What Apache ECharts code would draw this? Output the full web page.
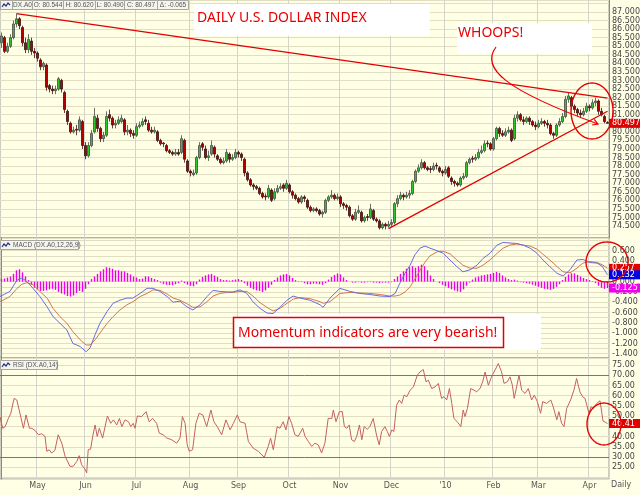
<!DOCTYPE html>
<html><head><meta charset="utf-8">
<script src="https://cdn.jsdelivr.net/npm/echarts/dist/echarts.min.js"></script>
<style>html,body{margin:0;padding:0;background:#FFFFE6;}#c{width:640px;height:495px;}</style>
</head><body><div id="c"></div>
<script>
// ---- daily candles (DX.A0) ----
const opens = [
85.2,85.5,84.7,85.0,85.5,86.3,86.6,86.1,85.2,84.8,
85.3,84.7,84.6,84.2,83.8,83.9,82.7,82.5,82.4,82.5,
83.0,82.3,81.2,80.5,80.0,80.15,80.1,80.6,79.2,78.6,
79.2,80.0,80.8,80.2,79.6,79.8,81.0,80.8,80.4,80.5,
80.6,80.7,80.0,80.1,79.9,79.8,80.3,80.4,80.7,80.5,
80.1,80.0,80.0,79.5,79.35,79.2,78.9,78.8,78.7,78.8,
78.8,79.5,78.3,77.7,77.5,77.6,78.5,79.3,79.0,78.5,
78.7,79.1,78.6,78.4,78.2,78.3,78.7,78.4,78.5,78.8,
78.7,78.4,77.6,77.2,76.9,76.8,76.7,76.4,76.25,76.2,
76.6,76.1,76.5,76.7,76.9,76.7,76.9,76.5,76.3,76.1,
75.9,76.2,76.0,75.6,75.4,75.5,75.4,75.2,75.3,76.0,
76.2,76.3,76.1,76.2,75.8,75.7,75.6,75.1,74.9,75.3,
75.3,74.8,75.05,75.0,75.4,74.9,74.8,74.4,74.6,74.5,
74.6,74.7,75.8,76.1,76.3,76.2,76.3,76.4,77.1,77.7,
77.9,78.2,77.9,77.85,77.8,78.05,77.9,77.7,77.6,77.9,
77.3,77.1,77.0,76.9,77.3,77.4,78.2,78.45,78.4,78.5,
78.8,78.9,79.35,79.3,79.0,79.6,80.2,79.9,79.8,80.0,
80.1,79.6,80.8,81.0,80.7,80.6,80.8,80.6,80.4,80.3,
80.5,80.6,80.5,80.4,79.9,79.8,80.4,80.6,80.9,81.9,
82.0,81.5,81.3,81.1,81.0,81.2,81.5,81.4,81.7,81.8,
81.2,80.9,80.544];
const closes = [
85.6,84.7,85.0,85.5,86.3,86.6,86.2,85.2,84.8,85.4,
84.7,84.6,84.3,83.8,84.0,82.6,82.5,82.4,82.5,83.1,
82.5,81.3,80.6,80.0,80.1,80.1,80.7,79.2,78.6,79.2,
79.9,80.9,80.2,79.6,79.8,80.9,80.8,80.4,80.5,80.7,
80.8,80.0,80.1,79.9,79.8,80.3,80.4,80.6,80.6,80.1,
80.0,80.1,79.5,79.3,79.3,78.9,78.8,78.7,78.8,78.7,
79.6,78.4,77.7,77.6,77.6,78.5,79.2,79.1,78.5,78.6,
79.2,78.7,78.4,78.2,78.3,78.8,78.4,78.5,78.8,78.7,
78.5,77.6,77.2,76.9,76.8,76.7,76.4,76.2,76.2,76.7,
76.0,76.5,76.7,76.8,76.7,77.0,76.5,76.3,76.1,75.9,
76.2,76.1,75.6,75.4,75.5,75.4,75.2,75.3,76.0,76.2,
76.3,76.1,76.2,75.8,75.7,75.6,75.1,74.9,75.3,75.4,
74.8,75.0,75.0,75.5,74.9,74.8,74.4,74.6,74.5,74.6,
74.7,75.8,76.1,76.3,76.2,76.3,76.4,77.1,77.7,77.9,
78.2,77.9,77.8,77.8,78.0,78.0,77.7,77.6,77.8,77.4,
77.1,77.0,76.9,77.3,77.4,78.2,78.4,78.4,78.5,78.8,
78.9,79.3,79.3,79.0,79.6,80.2,79.9,79.8,80.0,80.1,
79.5,80.8,81.0,80.7,80.6,80.8,80.6,80.4,80.3,80.5,
80.6,80.5,80.4,79.9,79.8,80.4,80.6,80.9,81.9,82.1,
81.5,81.3,81.1,81.0,81.2,81.5,81.4,81.7,81.8,81.2,
81.0,80.6,80.497];
const lows = [
84.9,84.6,84.6,84.9,85.4,86.1,86.0,85.0,84.6,84.6,
84.5,84.3,84.1,83.6,83.6,82.4,82.3,82.2,82.2,82.4,
82.3,81.1,80.4,79.9,79.9,79.8,80.0,79.0,78.4,78.5,
79.1,79.9,80.0,79.4,79.4,79.7,80.6,80.2,80.2,80.4,
80.5,79.8,79.8,79.7,79.6,79.7,80.2,80.3,80.4,80.0,
79.9,79.9,79.4,79.2,79.1,78.8,78.7,78.6,78.6,78.6,
78.7,78.2,77.6,77.4,77.4,77.5,78.4,78.9,78.4,78.3,
78.6,78.5,78.3,78.1,78.1,78.2,78.2,78.3,78.4,78.5,
78.3,77.4,77.1,76.8,76.6,76.6,76.3,76.1,76.0,76.1,
75.9,76.0,76.4,76.6,76.5,76.6,76.4,76.1,76.0,75.8,
75.8,75.9,75.5,75.3,75.3,75.3,75.1,75.0,75.2,75.9,
76.1,76.0,76.0,75.6,75.5,75.4,75.0,74.8,74.8,75.2,
74.7,74.7,74.8,74.9,74.8,74.7,74.3,74.3,74.3,74.4,
74.5,74.6,75.6,76.0,76.0,76.1,76.1,76.3,77.0,77.6,
77.8,77.8,77.7,77.6,77.7,77.8,77.6,77.4,77.5,77.3,
76.9,76.8,76.8,76.8,77.2,77.3,78.1,78.2,78.3,78.4,
78.7,78.8,79.1,78.9,78.9,79.5,79.7,79.7,79.7,79.9,
79.4,79.5,80.6,80.6,80.4,80.5,80.4,80.3,80.1,80.2,
80.4,80.3,80.2,79.8,79.6,79.7,80.3,80.5,80.8,81.7,
81.3,81.1,80.9,80.8,80.9,81.1,81.2,81.3,81.5,81.0,
80.9,80.5,80.49];
const highs = [
85.8,85.6,85.2,85.7,86.5,86.9,86.7,86.2,85.5,85.7,
85.5,84.9,84.7,84.3,84.1,84.0,82.8,82.7,82.7,83.2,
83.1,82.4,81.3,80.6,80.3,80.4,80.9,80.7,79.4,79.4,
80.1,81.4,81.0,80.3,80.0,81.2,81.3,80.9,80.7,80.9,
81.0,80.8,80.4,80.2,80.1,80.5,80.6,80.8,80.9,80.7,
80.3,80.3,80.1,79.6,79.4,79.3,79.0,78.9,79.0,79.0,
79.8,79.6,78.4,77.8,77.8,78.6,79.4,79.4,79.2,78.9,
79.5,79.2,78.7,78.5,78.5,79.0,78.8,78.7,79.0,78.9,
78.8,78.5,77.7,77.3,77.0,76.9,76.8,76.5,76.4,76.9,
76.7,76.7,76.9,77.0,77.0,77.2,77.0,76.6,76.4,76.2,
76.3,76.3,76.1,75.7,75.6,75.6,75.5,75.4,76.1,76.3,
76.6,76.4,76.4,76.3,75.9,75.8,75.7,75.2,75.5,75.7,
75.4,75.1,75.2,75.8,75.5,75.0,74.9,74.7,74.7,74.8,
74.9,75.9,76.3,76.5,76.4,76.5,76.6,77.2,77.8,78.1,
78.4,78.3,78.0,78.0,78.2,78.2,78.0,77.8,78.0,78.0,
77.4,77.2,77.1,77.4,77.6,78.3,78.5,78.6,78.7,79.0,
79.2,79.5,79.5,79.4,79.7,80.3,80.3,80.1,80.2,80.3,
80.2,81.0,81.2,81.1,80.9,80.9,80.9,80.7,80.6,80.7,
80.8,80.7,80.7,80.5,80.0,80.5,80.8,81.1,82.1,82.3,
82.1,81.6,81.4,81.3,81.4,81.7,81.6,81.9,82.0,81.9,
81.4,81.0,80.62];

// ---- MACD(12,26,9): [bar position, value] ----
const macdLine = [[-0.5,-0.29],[2.8,-0.19],[5.2,0.03],[6.8,0.07],[8.5,0.0],[10.5,-0.13],[12.8,-0.29],[15.2,-0.49],[17.2,-0.68],[19.5,-0.81],[21.8,-0.94],[23.8,-1.20],[26.2,-1.26],[28.2,-1.36],[29.5,-1.29],[31.2,-1.03],[32.8,-0.81],[35.2,-0.58],[37.2,-0.42],[39.5,-0.36],[41.8,-0.32],[43.8,-0.32],[46.2,-0.23],[48.5,-0.13],[50.5,-0.13],[52.8,-0.19],[55.2,-0.29],[57.2,-0.40],[59.5,-0.38],[61.8,-0.49],[63.8,-0.55],[66.2,-0.45],[68.5,-0.29],[70.5,-0.17],[72.8,-0.19],[75.2,-0.20],[77.2,-0.20],[79.5,-0.16],[81.8,-0.23],[83.8,-0.39],[86.2,-0.52],[88.5,-0.61],[90.5,-0.62],[92.8,-0.50],[95.2,-0.36],[97.2,-0.28],[99.5,-0.32],[102.8,-0.36],[106.2,-0.45],[107.2,-0.50],[109.5,-0.32],[112.8,-0.13],[116.2,-0.19],[119.5,-0.23],[122.8,-0.25],[126.2,-0.28],[129.5,-0.29],[131.2,-0.23],[132.8,-0.03],[134.5,0.16],[136.2,0.32],[137.8,0.52],[139.5,0.65],[141.2,0.69],[142.8,0.65],[145.2,0.60],[147.2,0.55],[149.5,0.42],[151.8,0.29],[153.8,0.19],[156.2,0.23],[158.5,0.32],[160.5,0.45],[162.8,0.55],[165.2,0.71],[167.2,0.76],[169.5,0.75],[171.8,0.74],[173.8,0.71],[176.2,0.65],[178.5,0.55],[180.5,0.42],[182.8,0.29],[185.2,0.16],[187.2,0.11],[189.5,0.23],[191.8,0.42],[193.8,0.43],[196.2,0.37],[198.5,0.36],[200.2,0.30],[202,0.132]];
const signalLine = [[-0.5,-0.39],[2.8,-0.29],[5.2,-0.13],[6.8,-0.05],[8.5,-0.02],[10.5,-0.06],[12.8,-0.19],[15.2,-0.32],[17.2,-0.52],[19.5,-0.68],[21.8,-0.81],[23.8,-0.97],[26.2,-1.13],[28.2,-1.23],[29.5,-1.23],[31.2,-1.13],[32.8,-1.00],[35.2,-0.81],[37.2,-0.68],[39.5,-0.55],[41.8,-0.45],[43.8,-0.39],[46.2,-0.29],[48.5,-0.23],[50.5,-0.16],[52.8,-0.17],[55.2,-0.24],[57.2,-0.32],[59.5,-0.36],[61.8,-0.43],[63.8,-0.50],[66.2,-0.49],[68.5,-0.39],[70.5,-0.28],[72.8,-0.23],[75.2,-0.21],[77.2,-0.21],[79.5,-0.19],[81.8,-0.19],[83.8,-0.28],[86.2,-0.41],[88.5,-0.50],[90.5,-0.57],[92.8,-0.52],[95.2,-0.42],[97.2,-0.34],[99.5,-0.31],[102.8,-0.33],[106.2,-0.39],[107.2,-0.42],[109.5,-0.39],[112.8,-0.23],[116.2,-0.21],[119.5,-0.22],[122.8,-0.23],[126.2,-0.25],[129.5,-0.28],[131.2,-0.28],[132.8,-0.26],[134.5,-0.20],[136.2,-0.10],[137.8,0.05],[139.5,0.22],[141.2,0.38],[142.8,0.50],[145.2,0.58],[147.2,0.59],[149.5,0.54],[151.8,0.42],[153.8,0.32],[156.2,0.26],[158.5,0.26],[160.5,0.32],[162.8,0.42],[165.2,0.55],[167.2,0.65],[169.5,0.71],[171.8,0.73],[173.8,0.71],[176.2,0.69],[178.5,0.63],[180.5,0.53],[182.8,0.42],[185.2,0.29],[187.2,0.19],[189.5,0.17],[191.8,0.26],[193.8,0.36],[196.2,0.39],[198.5,0.37],[200.2,0.33],[202,0.257]];
const macdHist = [
0.05,0.06,0.08,0.10,0.15,0.22,0.24,0.18,0.10,0.03,
-0.06,-0.12,-0.15,-0.18,-0.18,-0.17,-0.15,-0.14,-0.16,-0.20,-0.23,-0.25,-0.28,-0.29,-0.27,-0.22,-0.18,-0.20,-0.14,-0.05,
0.05,0.10,0.15,0.20,0.24,0.28,0.27,0.25,0.22,0.22,0.20,0.20,0.17,0.14,0.10,0.08,0.05,0.06,0.10,0.10,0.07,0.05,0.03,
-0.02,-0.05,-0.06,-0.07,-0.07,-0.05,-0.03,
0.02,-0.03,-0.06,-0.08,-0.09,-0.05,
0.04,0.09,0.12,0.14,0.15,0.12,0.09,0.05,0.03,0.03,0.02,0.03,0.04,0.05,0.03,
-0.03,-0.08,-0.12,-0.15,-0.17,-0.18,-0.20,-0.17,-0.12,-0.06,
0.03,0.08,0.12,0.14,0.15,0.12,0.07,0.03,0.01,
-0.01,-0.03,-0.05,-0.05,-0.04,-0.04,-0.05,-0.06,-0.03,
0.04,0.09,0.13,0.16,0.14,0.08,0.03,0.00,
-0.02,-0.02,-0.01,-0.02,-0.02,-0.01,-0.01,-0.02,-0.02,-0.03,-0.02,-0.02,-0.02,-0.01,
0.05,0.10,0.15,0.20,0.25,0.28,0.30,0.27,0.30,0.33,0.30,0.22,0.12,0.05,0.00,
-0.03,-0.06,-0.09,-0.12,-0.15,-0.17,-0.19,-0.20,-0.15,-0.08,-0.02,
0.04,0.08,0.10,0.12,0.13,0.14,0.15,0.17,0.19,0.17,0.12,0.08,0.05,0.03,0.04,0.02,
-0.01,-0.02,-0.03,-0.04,-0.06,-0.08,-0.10,-0.12,-0.14,-0.15,-0.16,-0.14,-0.10,-0.05,
0.03,0.09,0.14,0.16,0.16,0.13,0.10,0.07,0.05,0.03,0.01,
-0.03,-0.08,-0.12,-0.14,-0.125];

// ---- RSI(14): [bar position, value] ----
const rsiLine = [[-0.5,49.8],[0.4,44.1],[1.2,44.9],[2.3,48.9],[3.1,51.4],[4.2,58.7],[5.1,57.9],[5.9,53.0],[7.3,44.1],[8.2,50.6],[9.3,44.1],[10.1,44.1],[11.2,43.0],[12.3,40.9],[13.4,41.4],[14.5,40.1],[15.1,32.8],[15.9,33.6],[16.7,32.0],[17.8,33.3],[18.9,40.9],[20.1,36.8],[21.2,30.4],[22.8,25.5],[23.9,25.5],[25.1,27.9],[25.9,30.7],[26.7,26.3],[27.8,24.2],[28.4,22.3],[28.9,33.6],[29.7,33.9],[30.4,40.1],[31.2,45.7],[31.9,40.1],[32.6,44.1],[33.7,39.3],[35.3,50.1],[36.4,46.5],[37.3,48.2],[38.4,45.7],[39.3,48.9],[40.1,44.9],[41.2,48.2],[42.3,47.3],[43.1,44.9],[43.9,46.5],[44.5,44.1],[45.3,50.1],[46.7,49.8],[48.2,52.2],[49.2,47.3],[50.4,48.9],[51.7,46.5],[52.6,41.7],[53.9,40.9],[55.1,39.3],[56.7,38.5],[58.4,36.8],[59.5,39.3],[60.3,49.8],[61.2,46.5],[61.9,36.0],[62.6,32.8],[63.7,33.6],[64.8,46.5],[65.9,51.4],[67.1,50.6],[68.4,44.9],[69.8,53.0],[70.8,47.3],[71.9,44.9],[73.4,40.9],[74.8,48.2],[76.2,43.3],[77.3,46.5],[78.6,50.6],[79.5,47.3],[81.2,46.5],[82.3,37.6],[83.9,34.4],[85.6,32.8],[87.6,29.9],[88.9,35.2],[89.7,39.3],[90.6,33.6],[91.2,32.8],[91.9,44.9],[92.8,44.1],[93.9,47.3],[94.8,43.3],[95.8,49.8],[96.7,46.5],[97.8,40.9],[98.9,40.1],[100.4,44.1],[101.2,40.1],[102.3,37.6],[103.4,35.2],[104.5,36.8],[105.6,36.0],[106.7,32.0],[107.8,36.8],[108.9,48.9],[110.1,48.9],[110.6,53.0],[111.5,47.3],[112.6,52.2],[113.6,52.2],[114.3,44.9],[115.1,44.1],[115.9,45.7],[116.7,38.5],[117.6,37.6],[118.4,40.1],[119.3,45.7],[120.1,38.5],[120.9,44.9],[121.9,43.6],[122.8,44.9],[123.9,48.9],[125.1,40.1],[125.9,36.0],[126.7,42.5],[127.8,44.9],[128.6,42.5],[129.3,40.1],[130.1,43.3],[130.8,42.5],[131.7,55.4],[132.6,57.9],[133.4,56.2],[134.2,60.3],[135.1,59.5],[136.2,62.7],[137.3,64.3],[138.6,70.0],[139.5,71.6],[140.6,72.8],[141.5,66.8],[142.3,67.6],[143.4,63.5],[144.5,64.3],[145.6,66.0],[146.7,58.7],[147.5,59.5],[148.4,57.9],[149.3,63.5],[150.1,56.2],[150.8,48.9],[151.9,47.3],[153.1,44.9],[153.9,53.0],[154.5,49.8],[155.3,53.8],[156.4,63.5],[157.5,62.7],[158.4,61.9],[159.5,63.5],[160.4,66.8],[161.2,71.6],[162.3,65.1],[163.1,68.4],[163.9,70.8],[165.6,75.7],[166.7,71.6],[167.5,66.0],[168.6,66.8],[169.5,69.2],[170.3,65.1],[170.9,58.7],[171.7,64.3],[172.5,70.0],[173.4,62.7],[174.5,61.1],[175.6,63.5],[176.7,57.9],[177.6,60.3],[178.6,57.1],[179.7,51.4],[180.4,57.1],[181.7,56.2],[183.1,57.9],[183.9,54.6],[185.1,48.2],[185.8,52.2],[186.7,46.5],[187.5,44.9],[188.4,53.8],[189.7,57.9],[190.8,62.7],[191.7,68.4],[192.8,61.9],[193.7,59.5],[194.5,58.7],[195.1,55.4],[195.8,51.4],[196.5,54.6],[197.3,53.8],[198.4,56.2],[199.5,57.5],[200.5,47.7],[202,46.41]];

// ---- axis labels ----
const monthNames = ['May','Jun','Jul','Aug','Sep','Oct','Nov','Dec',"'10",'Feb','Mar','Apr'];
const monthStartBars = [12,28,45,63,79,96,113,130,148,164,179,196];
const headerTexts = ['DX.A0','O: 80.544','H: 80.620','L: 80.490','C: 80.497','\u0394: -0.065'];
// trend lines: [bar, price]
const resistance = [[5,86.9],[202,81.97]];
const support = [[129,74.35],[202,81.2]];

const N = closes.length;
const days = closes.map((_, i) => String(i));
const candles = closes.map((c, i) => [opens[i], c, lows[i], highs[i]]);

const chart = echarts.init(document.getElementById('c'), null, {renderer:'canvas'});
const AXF = 'DejaVu Sans';
const monthSet = new Set(monthStartBars);

function catAxis(g, withLabels) {
  return {
    type:'category', gridIndex:g, data:days, boundaryGap:true,
    axisLine:{show:false}, axisTick:{show:false},
    axisLabel: withLabels ? {
      show:true, interval:(i)=>monthSet.has(i),
      formatter:(v,i)=>monthNames[monthStartBars.indexOf(i)] || '',
      fontSize:8, color:'#555', margin:3, fontFamily:AXF
    } : {show:false},
    splitLine:{show:true, interval:(i)=>monthSet.has(i), lineStyle:{color:'#D4D4CA', width:1}}
  };
}
function valAxis(g, min, max, split, fmt, lineColor) {
  return {
    type:'value', gridIndex:g, position:'right', min:min, max:max, splitNumber:split,
    axisLine:{show:true, lineStyle:{color:'#8a8a8a'}}, axisTick:{show:false},
    axisLabel:{fontSize:8, color:'#444', margin:3, fontFamily:AXF, showMinLabel:false, showMaxLabel:false, formatter:fmt},
    splitLine:{show:true, lineStyle:{color:lineColor, width:1}}
  };
}
const gridBase = {left:0, right:31, show:true, backgroundColor:'#FFFFE6', borderColor:'#9a9a9a', borderWidth:1, containLabel:false, outerBoundsMode:'none'};

chart.setOption({
  animation:false,
  backgroundColor:'#FFFFE6',
  grid:[
    Object.assign({top:0, height:238}, gridBase),
    Object.assign({top:238, height:120}, gridBase),
    Object.assign({top:358, height:121}, gridBase)
  ],
  xAxis:[
    catAxis(0,false), catAxis(1,false), catAxis(2,true),
    {type:'value', gridIndex:1, min:-0.5, max:N-0.5, show:false},
    {type:'value', gridIndex:2, min:-0.5, max:N-0.5, show:false}
  ],
  yAxis:[
    valAxis(0, 73.80, 87.70, 27, v => (v>74.49 && v<87.01) ? v.toFixed(3) : '', '#E2DEC2'),
    valAxis(1, -1.483, 0.847, 23, v => {
      const r = Math.round(v*10);
      if (r % 2 !== 0 || v < -1.41 || v > 0.61) return '';
      return (Math.abs(v) < 1e-9 ? 0 : v).toFixed(3);
    }, '#E2DEC2'),
    valAxis(2, 19.3, 78.42, 12, v => (v>24.9 && v<75.1) ? v.toFixed(2) : '', '#E2DEC2')
  ],
  series:[
    {type:'candlestick', xAxisIndex:0, yAxisIndex:0, data:candles, barWidth:2,
     itemStyle:{color:'#2EC42E', color0:'#B00000', borderColor:'#4a4a4a', borderColor0:'#3a1010', borderWidth:0.8},
     markLine:{silent:true, symbol:['none','none'], label:{show:false},
       lineStyle:{color:'#E00000', width:1.3, type:'solid'},
       data:[
         [{coord:resistance[0]},{coord:resistance[1]}],
         [{coord:support[0]},{coord:support[1]}]
       ]}
    },
    {type:'bar', xAxisIndex:1, yAxisIndex:1, data:macdHist, barWidth:1.4, itemStyle:{color:'#EE00EE'}, silent:true},
    {type:'line', xAxisIndex:3, yAxisIndex:1, data:signalLine, showSymbol:false, lineStyle:{color:'#D07850', width:1}, silent:true},
    {type:'line', xAxisIndex:3, yAxisIndex:1, data:macdLine, showSymbol:false, lineStyle:{color:'#6A6AE0', width:1}, silent:true},
    {type:'line', xAxisIndex:4, yAxisIndex:2, data:rsiLine, showSymbol:false, lineStyle:{color:'#C46060', width:1}, silent:true,
     markLine:{silent:true, symbol:['none','none'], label:{show:false},
       lineStyle:{color:'#777', width:1, type:'solid'}, data:[{yAxis:70},{yAxis:30}]}}
  ]
});

// ---- annotations ----
const RED = '#E80000';
const g = [];
function ellipse(cx, cy, rx, ry) {
  const pts = [];
  for (let k = 0; k < 72; k++) { const a = k/72*Math.PI*2; pts.push([cx+rx*Math.cos(a), cy+ry*Math.sin(a)]); }
  return {type:'polygon', shape:{points:pts}, style:{fill:'none', stroke:RED, lineWidth:1.4}, z:120, silent:true};
}
function smallBox(x, y, w, h, text, icon) {
  g.push({type:'rect', shape:{x:x+0.5, y:y+0.5, width:w, height:h}, style:{fill:'#F5F5EE', stroke:'#A8A8A0', lineWidth:1}, z:100});
  let tx = x + 3;
  if (icon) {
    g.push({type:'polyline', shape:{points:[[x+2,y+h-2],[x+4,y+4],[x+6,y+6],[x+8,y+3],[x+10,y+5]]}, style:{stroke:'#1E2E88', lineWidth:1.2, fill:'none'}, z:101});
    tx = x + 13;
  }
  if (text) g.push({type:'text', x:tx, y:y+0.5+h/2, style:{text:text, fill:'#555', font:'6.5px "Liberation Sans"', verticalAlign:'middle'}, z:101});
}
// header
smallBox(0,0,12,9,'',true);
const hx = [12,32,63,95,124,157,188];
headerTexts.forEach((t,i)=>{
  const w = hx[i+1]-hx[i];
  g.push({type:'rect', shape:{x:hx[i]+0.5, y:0.5, width:w, height:9}, style:{fill:'#F5F5EE', stroke:'#A8A8A0', lineWidth:1}, z:100});
  g.push({type:'text', x:hx[i]+w/2+0.5, y:5, style:{text:t, fill:'#555', font:'6.5px "Liberation Sans"', align:'center', verticalAlign:'middle'}, z:101});
});
// panel labels
smallBox(0,240,78,9,'MACD (DX.A0,12,26,9)',true);
smallBox(0,360,57,9,'RSI (DX.A0,14)',true);
// title box
g.push({type:'rect', shape:{x:194, y:4, width:236, height:32}, style:{fill:'#FFFFFF'}, z:100});
g.push({type:'text', x:197, y:18, style:{text:'DAILY U.S. DOLLAR INDEX', fill:RED, font:'14px "Noto Sans"', verticalAlign:'middle'}, z:101});
// WHOOPS box
g.push({type:'rect', shape:{x:457, y:23, width:135, height:31}, style:{fill:'#FFFFFF'}, z:100});
g.push({type:'text', x:458, y:33, style:{text:'WHOOPS!', fill:RED, font:'14px "Noto Sans"', verticalAlign:'middle'}, z:101});
// curved arrow
g.push({type:'bezierCurve', shape:{x1:496,y1:47,cpx1:480,cpy1:68,cpx2:505,cpy2:90,x2:598,y2:124}, style:{stroke:RED, lineWidth:1.2, fill:'none'}, z:115, silent:true});
g.push({type:'polyline', shape:{points:[[594.2,119.4],[598,124],[592.1,125.0]]}, style:{stroke:RED, lineWidth:1.2, fill:'none'}, z:115});
// Momentum box
g.push({type:'rect', shape:{x:238, y:314, width:303, height:36}, style:{fill:'#FFFFFF'}, z:100});
g.push({type:'rect', shape:{x:233.5, y:317.5, width:270, height:30}, style:{fill:'#FFFFFF', stroke:RED, lineWidth:1.5}, z:101});
g.push({type:'text', x:238, y:333, style:{text:'Momentum indicators are very bearish!', fill:RED, font:'14px "Noto Sans"', verticalAlign:'middle'}, z:102});

// value boxes on right axis
function valBox(yAxisIndex, value, text, color) {
  const y = chart.convertToPixel({yAxisIndex:yAxisIndex}, value);
  g.push({type:'rect', shape:{x:609, y:y-4.5, width:31, height:9}, style:{fill:color}, z:105});
  g.push({type:'text', x:612, y:y, style:{text:text, fill:'#FFFFFF', font:'8px "DejaVu Sans"', verticalAlign:'middle'}, z:106});
}
valBox(0, closes[N-1], closes[N-1].toFixed(3), '#E00000');
valBox(1, signalLine[signalLine.length-1][1], signalLine[signalLine.length-1][1].toFixed(3), '#E00000');
valBox(1, macdLine[macdLine.length-1][1], macdLine[macdLine.length-1][1].toFixed(3), '#0000E8');
valBox(1, macdHist[N-1], macdHist[N-1].toFixed(3), '#F000F0');
const rsiLast = rsiLine[rsiLine.length-1][1];
valBox(2, rsiLast, rsiLast.toFixed(2), '#E00000');

// circles
g.push(ellipse(592,111,21,28));
g.push(ellipse(607,262,21,20));
g.push(ellipse(604,424,17,21));
// Daily
g.push({type:'text', x:611, y:485, style:{text:'Daily', fill:'#555', font:'8px "DejaVu Sans"', verticalAlign:'middle'}, z:100});

chart.setOption({graphic:{elements:g}});
</script>
</body></html>
